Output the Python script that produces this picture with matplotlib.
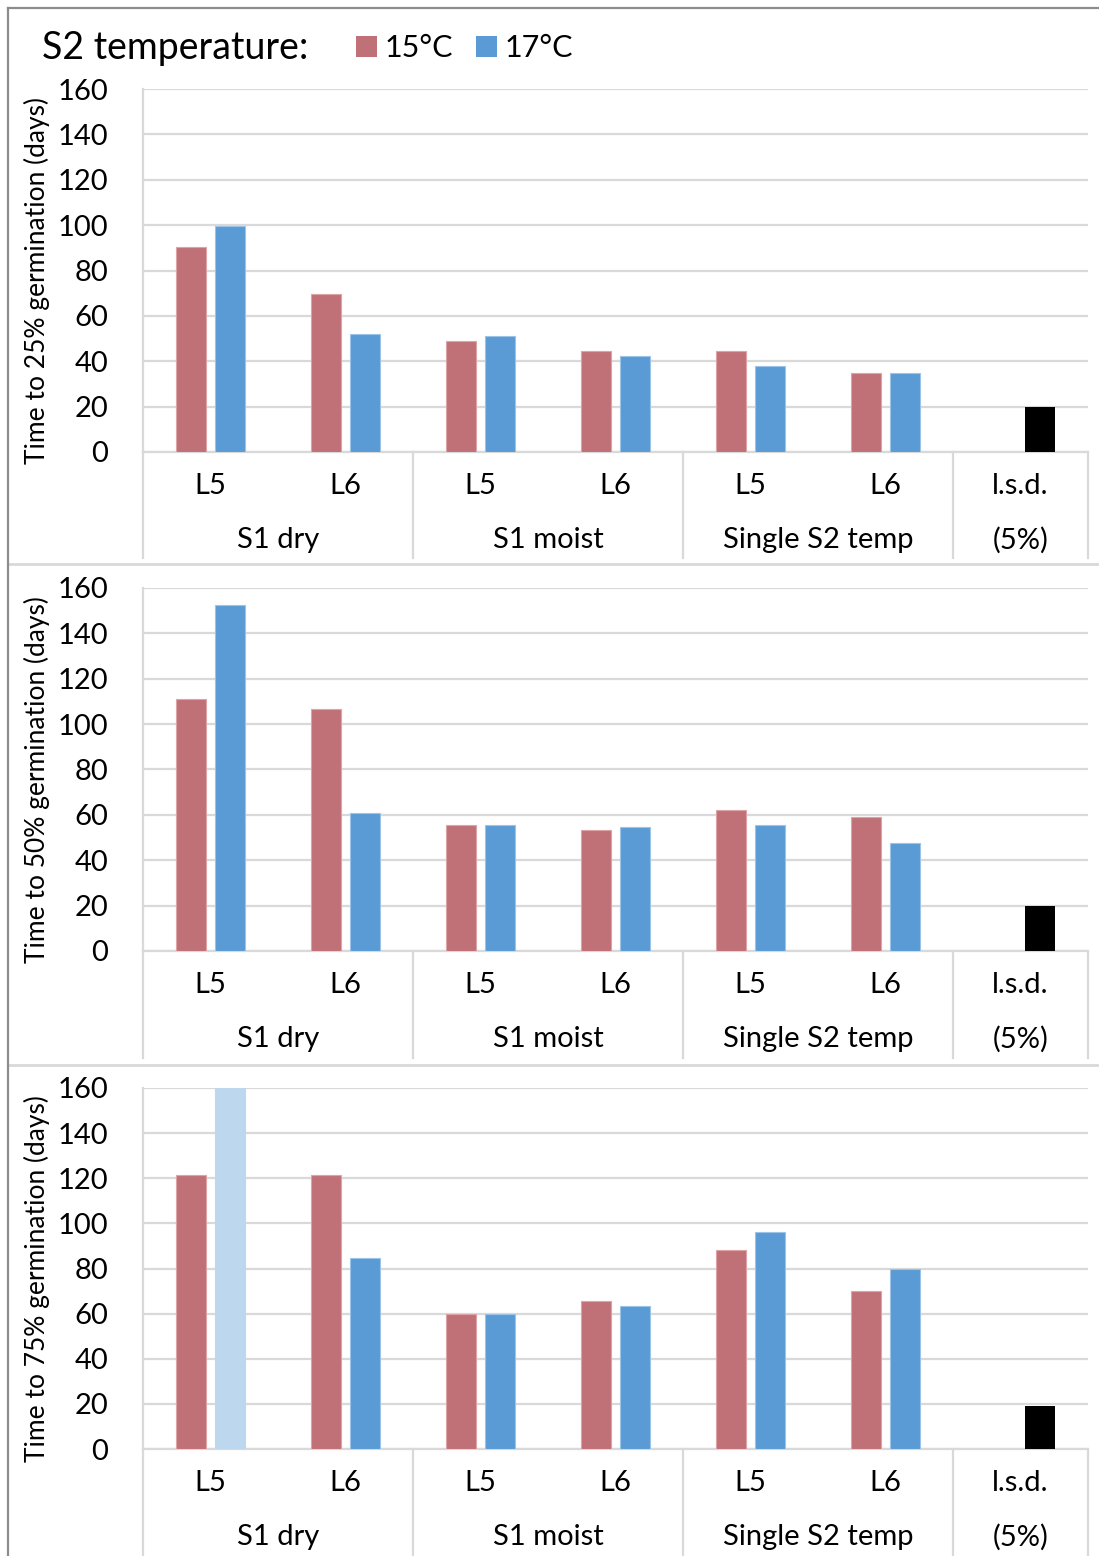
import matplotlib
matplotlib.use("Agg")
import matplotlib.pyplot as plt
from matplotlib.lines import Line2D
from matplotlib.patches import Patch
import matplotlib.transforms as mtransforms
import numpy as np

plt.rcParams['font.family'] = ['Lato', 'DejaVu Sans']

# ---- data -------------------------------------------------------------
lines = ["L5", "L6", "L5", "L6", "L5", "L6"]
groups = ["S1 dry", "S1 moist", "Single S2 temp"]
ylabels = ["Time to 25% germination (days)",
           "Time to 50% germination (days)",
           "Time to 75% germination (days)"]

t25_15 = [90.5, 69.5, 49, 44.5, 44.5, 35]
t25_17 = [99.5, 52, 51, 42.5, 38, 35]
t50_15 = [111, 106.5, 55.5, 53.5, 62, 59]
t50_17 = [152.5, 61, 55.5, 54.5, 55.5, 47.5]
t75_15 = [121.5, 121.5, 60, 65.5, 88, 70]
t75_17 = [160, 84.5, 60, 63.5, 96, 80]
lsd = [20, 20, 19]

series_15 = [t25_15, t50_15, t75_15]
series_17 = [t25_17, t50_17, t75_17]

# bars whose value runs past the axis are shown in a pale tint
offscale_17 = [[], [], [0]]

# ---- style ------------------------------------------------------------
RED = "#C07177"
RED_EDGE = "#DDA3A7"
BLUE = "#5A9BD5"
BLUE_EDGE = "#9CC3E8"
PALE = "#BDD7EE"
GRID = "#D9D9D9"
FS = 21

W, H = 1099, 1556
fig = plt.figure(figsize=(W / 100, H / 100), dpi=100)

ax_left, ax_right = 143, 1088
panel_px = [(89, 452), (588, 951), (1088, 1449)]
panel_bottom_limit = [558, 1058, 1556]

bw = 0.222
off = 0.145
x = np.arange(len(lines))
ymax = 160

for k in range(3):
    top, bot = panel_px[k]
    ax = fig.add_axes([ax_left / W, 1 - bot / H, (ax_right - ax_left) / W, (bot - top) / H])
    ax.set_xlim(-0.5, 6.5)
    ax.set_ylim(0, ymax)

    cols17 = [PALE if i in offscale_17[k] else BLUE for i in range(len(x))]
    edg17 = [PALE if i in offscale_17[k] else BLUE_EDGE for i in range(len(x))]
    ax.bar(x - off, series_15[k], bw, color=RED, edgecolor=RED_EDGE, linewidth=0.8, zorder=3)
    ax.bar(x + off, series_17[k], bw, color=cols17, edgecolor=edg17, linewidth=0.8, zorder=3)
    ax.bar([6 + off], [lsd[k]], bw, color="black", zorder=3)

    ax.set_yticks(np.arange(0, 161, 20))
    ax.yaxis.grid(True, color=GRID, linewidth=1.6, zorder=0)
    ax.set_axisbelow(True)
    ax.tick_params(axis='y', length=0, pad=25, labelsize=FS)
    ax.set_xticks([])
    for s in ["top", "right"]:
        ax.spines[s].set_visible(False)
    for s in ["left", "bottom"]:
        ax.spines[s].set_color(GRID)
        ax.spines[s].set_linewidth(1.6)

    # category labels beneath the axis
    ph = bot - top
    trans = mtransforms.blended_transform_factory(ax.transData, ax.transAxes)
    for i, lab in enumerate(lines):
        ax.text(i, -34 / ph, lab, transform=trans, ha="center", va="center", fontsize=FS)
    for g, name in enumerate(groups):
        ax.text(2 * g + 0.5, -88 / ph, name, transform=trans, ha="center", va="center", fontsize=FS)
    ax.text(6, -34 / ph, "l.s.d.", transform=trans, ha="center", va="center", fontsize=FS)
    ax.text(6, -88 / ph, "(5%)", transform=trans, ha="center", va="center", fontsize=FS)

    depth = (panel_bottom_limit[k] - bot) / ph
    for xs in [-0.5, 1.5, 3.5, 5.5, 6.5]:
        ax.add_line(Line2D([xs, xs], [0, -depth], transform=trans, color=GRID,
                           linewidth=1.6, clip_on=False))

    fig.text(37 / W, 1 - (top + bot) / 2 / H - 10 / H, ylabels[k], rotation=90,
             ha="center", va="center", fontsize=19)

# panel separators and outer frame
for yy in [564, 1065]:
    fig.add_artist(Line2D([8 / W, 1], [1 - yy / H, 1 - yy / H], color=GRID, linewidth=2.0))
fig.add_artist(Line2D([8 / W, 8 / W], [0, 1 - 8 / H], color="#8C8C8C", linewidth=1.6))
fig.add_artist(Line2D([8 / W, 1], [1 - 8 / H, 1 - 8 / H], color="#8C8C8C", linewidth=1.6))

# heading and legend
fig.text(42 / W, 1 - 48 / H, "S2 temperature:", ha="left", va="center", fontsize=27)
handles = [Patch(facecolor=RED, edgecolor="none"), Patch(facecolor=BLUE, edgecolor="none")]
fig.legend(handles, ["15°C", "17°C"], loc="center left",
           bbox_to_anchor=(356 / W, 1 - 48 / H), ncol=2, frameon=False,
           fontsize=22, handlelength=0.68, handleheight=0.68,
           handletextpad=0.25, columnspacing=0.75, borderpad=0, borderaxespad=0)

fig.savefig("out.png", dpi=100)
